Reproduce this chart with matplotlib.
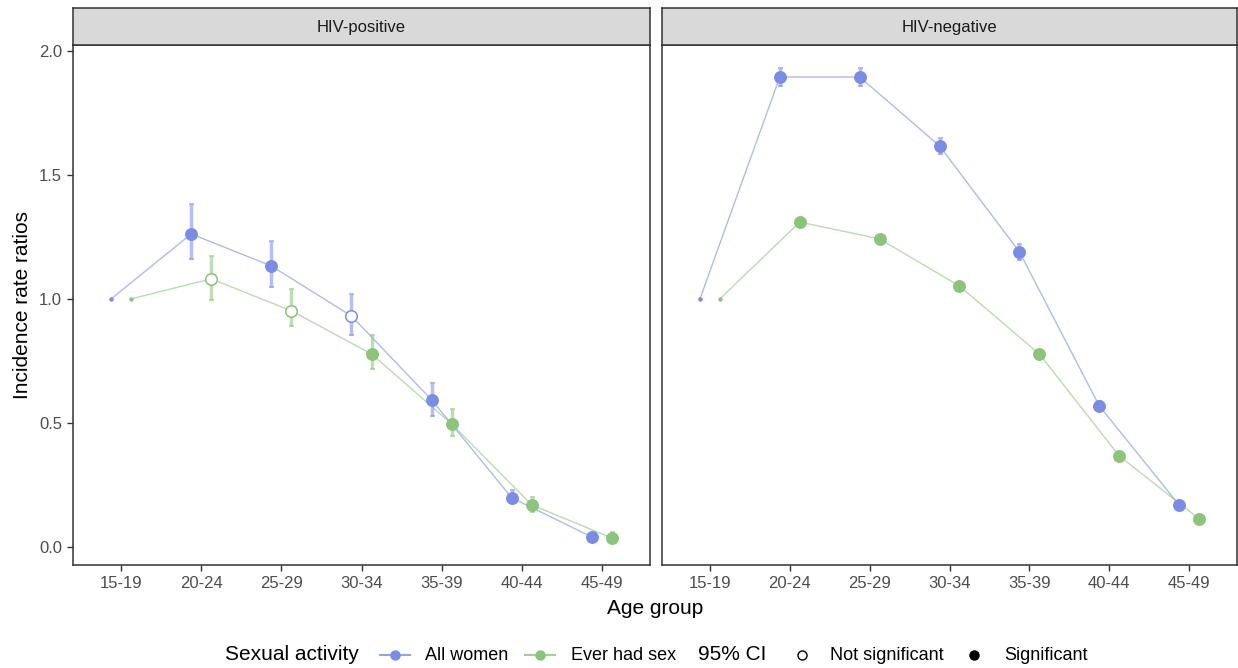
import matplotlib
matplotlib.use("Agg")
import matplotlib.pyplot as plt
from matplotlib.lines import Line2D
import numpy as np

plt.rcParams['font.family'] = ['Liberation Sans', 'DejaVu Sans']

age_groups = ["15-19", "20-24", "25-29", "30-34", "35-39", "40-44", "45-49"]
panels = ["HIV-positive", "HIV-negative"]
series = ["All women", "Ever had sex"]
colors = {"All women": "#7B8CE4", "Ever had sex": "#8CC47B"}

# HIV-positive
pos_all = [1.0, 1.262, 1.133, 0.931, 0.593, 0.198, 0.040]
pos_all_lo = [1.0, 1.161, 1.048, 0.855, 0.528, 0.177, 0.024]
pos_all_hi = [1.0, 1.383, 1.234, 1.020, 0.661, 0.230, 0.060]
pos_all_sig = [None, True, True, False, True, True, True]

pos_sex = [1.0, 1.081, 0.952, 0.778, 0.496, 0.169, 0.036]
pos_sex_lo = [1.0, 0.996, 0.891, 0.718, 0.448, 0.141, 0.016]
pos_sex_hi = [1.0, 1.173, 1.040, 0.855, 0.556, 0.200, 0.060]
pos_sex_sig = [None, False, False, True, True, True, True]

# HIV-negative
neg_all = [1.0, 1.895, 1.895, 1.617, 1.190, 0.569, 0.169]
neg_all_lo = [1.0, 1.859, 1.859, 1.585, 1.157, 0.550, 0.155]
neg_all_hi = [1.0, 1.931, 1.931, 1.650, 1.222, 0.590, 0.180]
neg_all_sig = [None, True, True, True, True, True, True]

neg_sex = [1.0, 1.310, 1.242, 1.052, 0.778, 0.367, 0.113]
neg_sex_lo = [1.0, 1.295, 1.228, 1.040, 0.766, 0.358, 0.105]
neg_sex_hi = [1.0, 1.325, 1.256, 1.064, 0.790, 0.376, 0.121]
neg_sex_sig = [None, True, True, True, True, True, True]

data = {
    "HIV-positive": {
        "All women": (pos_all, pos_all_lo, pos_all_hi, pos_all_sig),
        "Ever had sex": (pos_sex, pos_sex_lo, pos_sex_hi, pos_sex_sig),
    },
    "HIV-negative": {
        "All women": (neg_all, neg_all_lo, neg_all_hi, neg_all_sig),
        "Ever had sex": (neg_sex, neg_sex_lo, neg_sex_hi, neg_sex_sig),
    },
}

W, H = 1238, 668
fig = plt.figure(figsize=(W / 100, H / 100), dpi=100)

def fx(px):
    return px / W

def fy(py):
    return 1 - py / H

panel_px = [(73, 650), (662, 1237)]
top_px, bot_px = 45, 565
strip_top = 8
offsets = {"All women": -0.125, "Ever had sex": 0.125}
x = np.arange(len(age_groups))

for (x0, x1), pname in zip(panel_px, panels):
    ax = fig.add_axes([fx(x0), fy(bot_px), fx(x1 - x0), (bot_px - top_px) / H])
    for s in series:
        vals, lo, hi, sig = data[pname][s]
        c = colors[s]
        xs = x + offsets[s]
        ax.plot(xs, vals, color=c, lw=1.0, alpha=0.6, zorder=2)
        vals_a = np.array(vals)
        err = np.vstack([vals_a - np.array(lo), np.array(hi) - vals_a])
        ax.errorbar(xs[1:], vals_a[1:], yerr=err[:, 1:], fmt='none', ecolor=c,
                    elinewidth=2.5, capsize=1.8, capthick=1.5, alpha=0.55, zorder=3)
        ax.plot(xs[0], vals[0], 'o', color=c, ms=2.2, zorder=4)
        for i in range(1, len(age_groups)):
            if sig[i]:
                ax.plot(xs[i], vals[i], 'o', ms=8.3, mfc=c, mec=c, mew=1, zorder=4)
            else:
                ax.plot(xs[i], vals[i], 'o', ms=8.3, mfc='white', mec=c, mew=1.1, zorder=4)
    ax.set_xlim(-0.6, len(age_groups) - 1 + 0.6)
    ax.set_ylim(-0.073, 2.024)
    ax.set_xticks(x)
    ax.set_xticklabels(age_groups)
    ax.set_yticks([0.0, 0.5, 1.0, 1.5, 2.0])
    if pname == "HIV-positive":
        ax.set_yticklabels(["0.0", "0.5", "1.0", "1.5", "2.0"])
    else:
        ax.tick_params(axis='y', left=False, labelleft=False)
    ax.tick_params(axis='both', colors='#333333', labelcolor='#4D4D4D',
                   labelsize=12, length=4, width=1, pad=4)
    for sp in ax.spines.values():
        sp.set_color('#333333')
        sp.set_linewidth(1.1)
    # strip
    sax = fig.add_axes([fx(x0), fy(top_px), fx(x1 - x0), (top_px - strip_top) / H])
    sax.set_facecolor('#D9D9D9')
    sax.set_xticks([]); sax.set_yticks([])
    for sp in sax.spines.values():
        sp.set_color('#333333')
        sp.set_linewidth(1.1)
    sax.text(0.5, 0.47, pname, ha='center', va='center', fontsize=12,
             color='#1A1A1A', transform=sax.transAxes)

fig.text(fx(22), fy(305), "Incidence rate ratios", rotation=90, ha='center',
         va='center', fontsize=15)
fig.text(fx(655), fy(609), "Age group", ha='center', va='center', fontsize=15)

# legend (manual)
ly = fy(655)
fig.text(fx(225), ly, "Sexual activity", ha='left', va='center', fontsize=15)
for kx, tx, s in [(380, 425, "All women"), (525, 571, "Ever had sex")]:
    c = colors[s]
    fig.add_artist(Line2D([fx(kx), fx(kx + 30)], [ly, ly], color=c, lw=1.5, alpha=0.8))
    fig.add_artist(Line2D([fx(kx + 15)], [ly], marker='o', color=c, ms=6.5, lw=0))
    fig.text(fx(tx), ly, s, ha='left', va='center', fontsize=13)
fig.text(fx(698), ly, "95% CI", ha='left', va='center', fontsize=15)
fig.add_artist(Line2D([fx(802)], [ly], marker='o', mfc='white', mec='black', ms=6.5, mew=1.0, lw=0))
fig.text(fx(830), ly, "Not significant", ha='left', va='center', fontsize=13)
fig.add_artist(Line2D([fx(974)], [ly], marker='o', color='black', ms=6.5, lw=0))
fig.text(fx(1004), ly, "Significant", ha='left', va='center', fontsize=13)

fig.savefig("out.png", dpi=100, facecolor='white')
